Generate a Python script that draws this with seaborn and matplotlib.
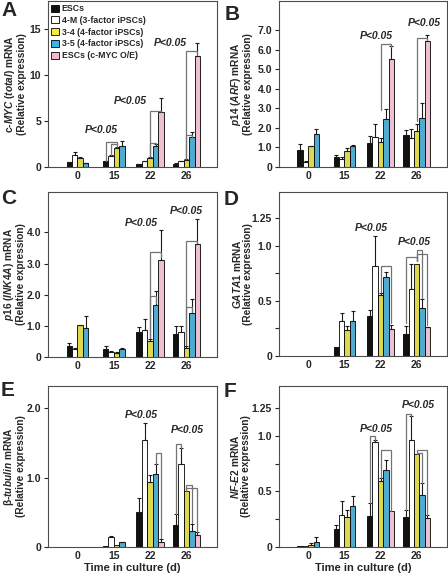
import numpy as np
import pandas as pd
import seaborn as sns
import matplotlib.pyplot as plt
from matplotlib.patches import Patch

nan = np.nan

days = ["0", "15", "22", "26"]
lines = ["ESCs", "4-M (3-factor iPSCs)", "3-4 (4-factor iPSCs)",
         "3-5 (4-factor iPSCs)", "ESCs (c-MYC O/E)"]
colors = ["#111111", "#ffffff", "#f4ec3a", "#3ab4e4", "#f3b8cf"]

# rows = days, columns = lines (nan = not measured)
myc_mean = [[0.5, 1.35, 1.0, 0.4, nan], [0.6, 1.2, 2.1, 2.25, nan],
            [0.3, 0.6, 0.95, 2.3, 6.0], [0.35, 0.65, 0.8, 3.2, 12.0]]
myc_err = [[0.05, 0.3, 0.05, 0.05, nan], [0.05, 0.1, 0.05, 0.6, nan],
           [0.03, 0.05, 0.12, 0.2, 1.45], [0.03, 0.05, 0.05, 0.55, 1.4]]

p14_mean = [[0.86, 0.25, 1.05, 1.67, nan], [0.49, 0.42, 0.81, 1.1, nan],
            [1.25, 1.55, 1.3, 2.44, 5.55], [1.62, 1.5, 1.83, 2.52, 6.47]]
p14_err = [[0.34, 0.08, 0.02, 0.26, nan], [0.1, 0.08, 0.14, 0.02, nan],
           [0.33, 0.65, 0.2, 0.55, 0.65], [0.25, 0.45, 0.35, 0.75, 0.27]]

p16_mean = [[0.36, 0.27, 1.02, 0.94, nan], [0.27, 0.17, 0.12, 0.25, nan],
            [0.8, 0.88, 0.5, 1.68, 3.12], [0.73, 0.8, 0.3, 1.4, 3.62]]
p16_err = [[0.1, 0.03, 0.01, 0.38, nan], [0.07, 0.02, 0.04, 0.03, nan],
           [0.17, 0.34, 0.08, 0.44, 0.96], [0.26, 0.18, 0.05, 0.46, 0.8]]

gata1_mean = [[0.004, 0.004, 0.004, 0.004, nan], [0.085, 0.32, 0.235, 0.32, nan],
              [0.36, 0.82, 0.55, 0.72, 0.245], [0.2, 0.61, 0.84, 0.44, 0.26]]
gata1_err = [[0, 0, 0, 0, nan], [0, 0.07, 0.035, 0.09, nan],
             [0.06, 0.27, 0.02, 0.04, 0.035], [0.07, 0.23, 0, 0.08, 0.005]]

tub_mean = [[0.004, 0.004, 0.004, 0.004, nan], [0.01, 0.15, 0.024, 0.067, nan],
            [0.51, 1.54, 0.93, 1.05, 0.067], [0.31, 1.2, 0.8, 0.235, 0.17]]
tub_err = [[0, 0, 0, 0, nan], [0, 0.015, 0, 0.01, nan],
           [0.2, 0.25, 0.11, 0.15, 0.05], [0.16, 0.22, 0, 0.1, 0.05]]

nfe2_mean = [[0.008, 0.005, 0.022, 0.048, nan], [0.16, 0.29, 0.27, 0.37, nan],
             [0.28, 0.95, 0.59, 0.69, 0.32], [0.27, 0.96, 0.84, 0.47, 0.26]]
nfe2_err = [[0, 0, 0.01, 0.045, nan], [0.04, 0.12, 0.06, 0.09, nan],
            [0.12, 0.015, 0.035, 0.09, 0], [0.06, 0.22, 0, 0.11, 0.03]]

# brackets: (day index, line a, line b, start on a, level, end on b)
myc_br = [(1, 0, 2, 0.7, 2.7, 2.45), (1, 1, 2, 1.3, 2.45, 2.2),
          (2, 2, 4, 1.1, 6.1, 6.0), (2, 2, 3, 1.1, 2.6, 2.45),
          (3, 2, 4, 0.9, 12.6, 12.1), (3, 2, 3, 0.9, 3.5, 3.3)]
p14_br = [(2, 2, 4, 2.9, 6.28, 6.15), (3, 2, 4, 2.35, 6.6, 6.5)]
p16_br = [(2, 2, 4, 0.6, 3.37, 3.2), (2, 2, 3, 0.6, 1.97, 1.75),
          (3, 2, 4, 0.4, 3.72, 3.65), (3, 2, 3, 0.4, 1.6, 1.45)]
gata1_br = [(2, 2, 4, 0.58, 0.82, 0.3), (3, 0, 2, 0.3, 0.9, 0.86),
            (3, 2, 3, 0.86, 0.96, 0.53), (3, 2, 4, 0.86, 0.93, 0.28)]
tub_br = [(2, 3, 4, 1.2, 1.35, 0.13), (3, 0, 1, 0.47, 1.48, 1.42),
          (3, 2, 3, 0.8, 0.9, 0.34), (3, 2, 4, 0.8, 0.85, 0.22)]
nfe2_br = [(2, 0, 1, 0.4, 1.0, 0.96), (2, 2, 4, 0.62, 0.87, 0.32),
           (3, 0, 1, 0.33, 1.2, 1.18), (3, 2, 4, 0.84, 0.87, 0.29),
           (3, 2, 3, 0.84, 0.85, 0.58)]

# "P<0.05" labels: (x, y) in data units
myc_p = [(0.67, 4.0), (1.45, 7.2), (2.55, 13.4)]
p14_p = [(1.89, 6.7), (3.21, 7.36)]
p16_p = [(1.75, 4.3), (2.99, 4.68)]
gata1_p = [(1.75, 1.16), (2.93, 1.04)]
tub_p = [(1.75, 1.9), (3.02, 1.68)]
nfe2_p = [(1.89, 1.06), (3.04, 1.28)]

sns.set_style("ticks")
plt.rcParams['font.family'] = ['Liberation Sans', 'DejaVu Sans']
plt.rcParams['font.weight'] = 'bold'
plt.rcParams['mathtext.fontset'] = 'custom'
plt.rcParams['mathtext.it'] = 'Liberation Sans:italic:bold'
plt.rcParams['mathtext.rm'] = 'Liberation Sans:bold'
plt.rcParams['mathtext.bf'] = 'Liberation Sans:bold'


def draw_panel(ax, mean, err, brackets, ptexts, ylabel, ylab_x, ylim, yticks, yticklabels,
               minor=None, xlabel=False):
    m = pd.DataFrame(mean, index=days, columns=lines)
    e = pd.DataFrame(err, index=days, columns=lines)
    df = m.stack().rename("value").reset_index()
    df.columns = ["day", "line", "value"]
    df["err"] = e.stack().values
    has5 = df.groupby("day")["line"].transform("count") == 5
    pos = {}
    for sub, nh, w in [(df[~has5], 4, 0.6), (df[has5], 5, 0.75)]:
        n0 = len(ax.containers)
        sns.barplot(data=sub, x="day", y="value", hue="line", order=days,
                    hue_order=lines[:nh], palette=colors[:nh], width=w,
                    edgecolor="black", linewidth=0.6, errorbar=None,
                    legend=False, ax=ax)
        for h, cont in enumerate(ax.containers[n0:]):
            rows = sub[sub.line == lines[h]].copy()
            rows["di"] = rows.day.map(days.index)
            rows = rows.sort_values("di")
            for bar, (_, r) in zip(cont, rows.iterrows()):
                x = bar.get_x() + bar.get_width() / 2
                pos[(r.di, h)] = x
                if r.err > 0:
                    ax.errorbar(x, bar.get_height(), yerr=[[0], [r.err]], fmt="none",
                                ecolor="0.1", elinewidth=0.8, capsize=1.5, capthick=0.8)
    for d, a, b, y0, lv, y1 in brackets:
        xa, xb = pos[(d, a)], pos[(d, b)]
        ax.plot([xa, xa, xb, xb], [y0, lv, lv, y1], color="0.45", lw=0.9,
                solid_joinstyle="miter")
    for x, y in ptexts:
        ax.text(x, y, "P<0.05", ha="center", va="center", fontsize=7.5,
                fontstyle="italic", fontweight="bold", clip_on=False)
    ax.set_xlim(-0.81, 3.84)
    ax.set_ylim(*ylim)
    ax.set_yticks(yticks)
    ax.set_yticklabels(yticklabels)
    if minor is not None:
        ax.set_yticks(minor, minor=True)
    ax.tick_params(axis="y", which="both", length=3, width=0.8, labelsize=7.5, pad=2)
    ax.tick_params(axis="x", length=0, labelsize=7.5, pad=3)
    ax.set_ylabel(ylabel, fontsize=7.3, fontweight="bold", linespacing=1.0)
    ax.yaxis.label.set_va("center")
    ax.yaxis.set_label_coords(ylab_x, 0.5)
    if xlabel:
        ax.set_xlabel("Time in culture (d)", fontsize=8, fontweight="bold", labelpad=1)
    else:
        ax.set_xlabel("")
    for s in ax.spines.values():
        s.set_visible(True)
        s.set_linewidth(0.8)
        s.set_color("0.3")


fig = plt.figure(figsize=(4.48, 5.79), dpi=100)
W, H = 448, 579


def add_ax(l, t, r, b):
    return fig.add_axes([l / W, 1 - b / H, (r - l) / W, (b - t) / H])


axA = add_ax(48, 1, 217, 167)
axB = add_ax(279, 1, 447, 167)
axC = add_ax(48, 192, 217, 357)
axD = add_ax(279, 192, 447, 356)
axE = add_ax(48, 386, 217, 547)
axF = add_ax(279, 386, 447, 547)

draw_panel(axA, myc_mean, myc_err, myc_br, myc_p,
           "c-$\\mathit{MYC}$ ($\\mathit{total}$) mRNA\n(Relative expression)", -0.195,
           (0, 18), [0, 5, 10, 15], ["0", "5", "10", "15"])
draw_panel(axB, p14_mean, p14_err, p14_br, p14_p,
           "$\\mathit{p14}$ ($\\mathit{ARF}$) mRNA\n(Relative expression)", -0.226,
           (0, 8.5), [0, 1, 2, 3, 4, 5, 6, 7],
           ["0", "1.0", "2.0", "3.0", "4.0", "5.0", "6.0", "7.0"])
draw_panel(axC, p16_mean, p16_err, p16_br, p16_p,
           "$\\mathit{p16}$ ($\\mathit{INK4A}$) mRNA\n(Relative expression)", -0.2,
           (0, 5.3), [0, 1, 2, 3, 4], ["0", "1.0", "2.0", "3.0", "4.0"])
draw_panel(axD, gata1_mean, gata1_err, gata1_br, gata1_p,
           "$\\mathit{GATA1}$ mRNA\n(Relative expression)", -0.218,
           (0, 1.49), [0, 0.5, 1.0, 1.25], ["0", "0.5", "1.0", "1.25"],
           minor=[0.25, 0.75])
draw_panel(axE, tub_mean, tub_err, tub_br, tub_p,
           "\u03b2-$\\mathit{tubulin}$ mRNA\n(Relative expression)", -0.2,
           (0, 2.32), [0, 1, 2], ["0", "1.0", "2.0"], xlabel=True)
draw_panel(axF, nfe2_mean, nfe2_err, nfe2_br, nfe2_p,
           "$\\mathit{NF}$-$\\mathit{E2}$ mRNA\n(Relative expression)", -0.232,
           (0, 1.45), [0, 0.5, 1.0, 1.25], ["0", "0.5", "1.0", "1.25"],
           minor=[0.25, 0.75], xlabel=True)

handles = [Patch(facecolor=c, edgecolor="black", linewidth=0.6) for c in colors]
leg = axA.legend(handles, lines, loc="upper left", frameon=False, fontsize=6.3,
                 handlelength=0.85, handleheight=0.85, handletextpad=0.35,
                 labelspacing=0.32, borderaxespad=0.25, borderpad=0.1)
for t in leg.get_texts():
    t.set_fontweight("bold")

for letter, x, y in [("A", 1, 1), ("B", 225, 5), ("C", 1, 189), ("D", 224, 190),
                     ("E", 1, 381), ("F", 224, 382)]:
    fig.text(x / W, 1 - y / H, letter, fontsize=15, fontweight="bold", va="top", ha="left")

fig.savefig("out.png", dpi=100)
